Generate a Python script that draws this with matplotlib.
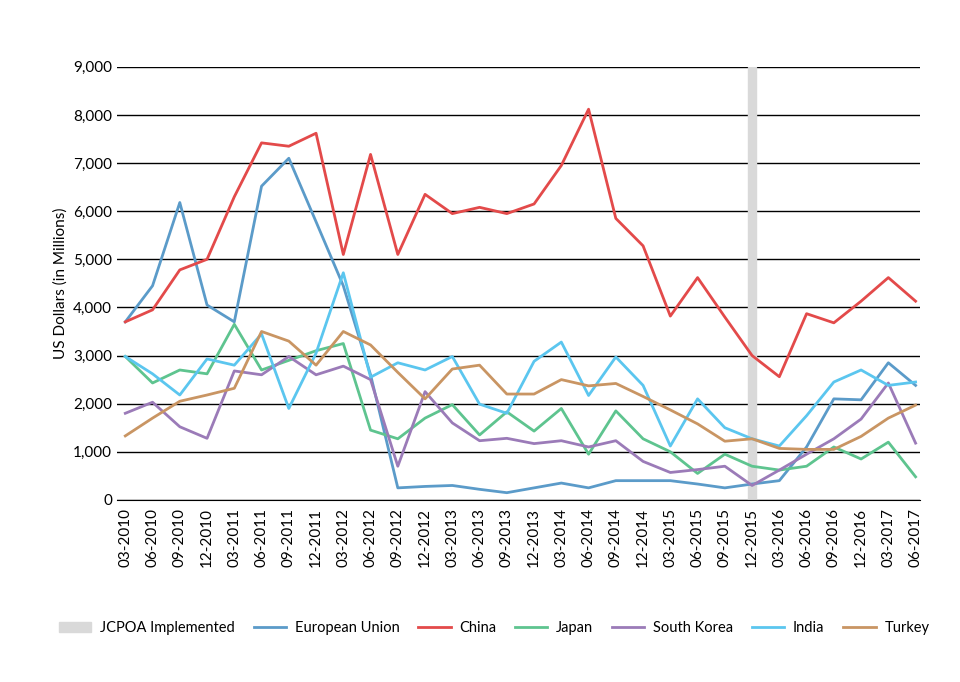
import matplotlib
matplotlib.use("Agg")
import matplotlib.pyplot as plt

quarters = ["03-2010","06-2010","09-2010","12-2010","03-2011","06-2011","09-2011","12-2011",
            "03-2012","06-2012","09-2012","12-2012","03-2013","06-2013","09-2013","12-2013",
            "03-2014","06-2014","09-2014","12-2014","03-2015","06-2015","09-2015","12-2015",
            "03-2016","06-2016","09-2016","12-2016","03-2017","06-2017"]
eu = [3700,4450,6180,4050,3700,6520,7100,5780,4450,2600,250,280,300,220,150,250,350,250,400,400,400,330,250,330,400,1100,2100,2080,2850,2380]
china = [3700,3950,4780,5000,6300,7420,7350,7620,5100,7180,5100,6350,5950,6080,5950,6150,6950,8120,5850,5280,3820,4620,3800,3000,2560,3870,3680,4130,4620,4130]
japan = [2980,2430,2700,2620,3650,2700,2900,3100,3250,1450,1270,1700,1980,1350,1830,1430,1900,950,1850,1270,1000,550,950,700,620,700,1100,850,1200,480]
korea = [1800,2030,1520,1280,2680,2600,2980,2600,2780,2500,700,2250,1600,1230,1280,1170,1230,1100,1230,800,570,630,700,300,620,950,1270,1680,2430,1180]
india = [2980,2620,2180,2930,2800,3450,1900,3050,4720,2550,2850,2700,2980,1990,1800,2880,3280,2170,2970,2380,1120,2100,1500,1270,1120,1750,2450,2700,2380,2450]
turkey = [1330,1700,2050,2180,2320,3500,3300,2800,3500,3220,2650,2100,2720,2800,2200,2200,2500,2370,2420,2150,1870,1580,1220,1270,1070,1050,1050,1320,1700,1970]
jcpoa = "12-2015"

plt.rcParams["font.family"] = "Lato"
fig = plt.figure(figsize=(9.6, 6.82), dpi=100)
ax = fig.add_axes([0.122, 0.267, 0.836, 0.635])
x = list(range(len(quarters)))
ax.axvspan(quarters.index(jcpoa) - 0.15, quarters.index(jcpoa) + 0.15, color="#d9d9d9", zorder=1, label="JCPOA Implemented")
series = [("European Union", eu, "#5b9bc9"), ("China", china, "#e34a4a"), ("Japan", japan, "#5ec48f"),
          ("South Korea", korea, "#9b7bb8"), ("India", india, "#5bc6ef"), ("Turkey", turkey, "#c99563")]
for name, vals, c in series:
    ax.plot(x, vals, color=c, lw=2, label=name, zorder=3)
ax.set_ylim(0, 9000)
ax.set_xlim(-0.3, len(quarters) - 0.85)
ax.set_yticks(range(0, 9001, 1000))
ax.set_yticklabels([f"{v:,}" for v in range(0, 9001, 1000)], fontsize=11)
ax.set_xticks(x)
ax.set_xticklabels(quarters, rotation=90, fontsize=11)
ax.grid(axis="y", color="black", lw=1, zorder=0)
ax.set_axisbelow(True)
for s in ["top", "right", "left"]:
    ax.spines[s].set_visible(False)
ax.spines["bottom"].set_color("black")
ax.tick_params(axis="y", length=0)
ax.tick_params(axis="x", length=0, pad=6)
ax.set_ylabel("US Dollars (in Millions)", fontsize=11)
ax.legend(loc="upper center", bbox_to_anchor=(0.47, -0.25), ncol=7, frameon=False,
          fontsize=10.5, handlelength=2.2, handletextpad=0.6, columnspacing=1.3)
fig.savefig("out.png", dpi=100, facecolor="white")
